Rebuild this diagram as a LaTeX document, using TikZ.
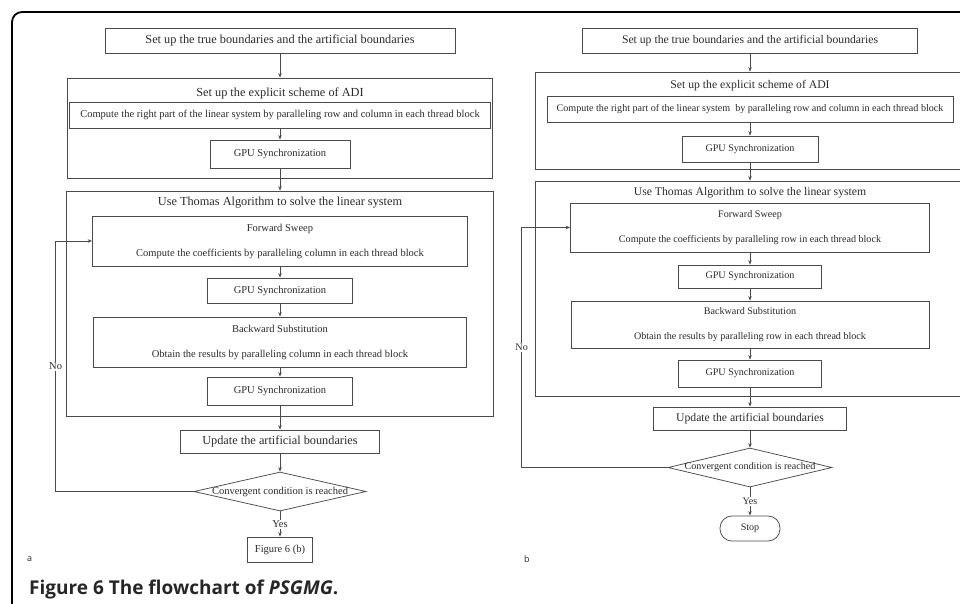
\documentclass[tikz,border=0pt]{standalone}
\usepackage{fontspec}
\setmainfont{Liberation Serif}
\newfontfamily\capfont{Open Sans}
\usetikzlibrary{shapes.geometric, arrows.meta}

\definecolor{linegray}{HTML}{4A4A4A}
\definecolor{textgray}{HTML}{2A2A2A}

\newcommand{\fsbig}{\fontsize{12.3}{14}\selectfont}
\newcommand{\fssmall}{\fontsize{10.5}{12.6}\selectfont}
\newcommand{\fsbigb}{\fontsize{11.7}{14}\selectfont}
\newcommand{\fssmallb}{\fontsize{10.1}{12.2}\selectfont}

\begin{document}
\begin{tikzpicture}[x=1pt, y=-1pt,
        box/.style={rectangle, draw=linegray, line width=0.75pt, inner sep=0pt, align=center, text=textgray},
        group/.style={rectangle, draw=linegray, line width=0.75pt, inner sep=0pt},
        title/.style={inner sep=0pt, text=textgray},
        decision/.style={diamond, draw=linegray, line width=0.75pt, inner sep=-2pt, aspect=4.4, text=textgray},
        terminal/.style={rectangle, rounded corners=12pt, draw=linegray, line width=0.75pt, inner sep=0pt, text=textgray},
        arrow/.style={->, >={Stealth[length=4.5pt, width=3.5pt]}, line width=0.75pt, draw=linegray},
        lbl/.style={fill=white, inner sep=1pt, text=textgray}
    ]
    \useasboundingbox (0,0) rectangle (960,603);
    \clip (0,0) rectangle (960,603);
    \draw[line width=1.8pt, rounded corners=10pt] (12,610) -- (12,12) -- (970,12);

    % panel a
    \node[box, font=\fsbig, minimum width=350, minimum height=25] (tba) at (280,40.5) {Set up the true boundaries and the artificial boundaries};
    \node[group, minimum width=425, minimum height=100] (adia) at (280,128) {};
    \node[title, font=\fsbig] (adtla) at (280,93) {Set up the explicit scheme of ADI};
    \node[box, font=\fssmall, minimum width=421, minimum height=26] (cpra) at (280,115) {Compute the right part of the linear system by paralleling row and column in each thread block};
    \node[box, font=\fssmall, minimum width=140, minimum height=28] (gsa1) at (280,154) {GPU Synchronization};
    \node[group, minimum width=427, minimum height=225] (thoa) at (280,303.5) {};
    \node[title, font=\fsbig] (thtla) at (280,203) {Use Thomas Algorithm to solve the linear system};
    \node[box, font=\fssmall, minimum width=375, minimum height=50] (fwda) at (280,241) {Forward Sweep\\[12.4pt]Compute the coefficients by paralleling column in each thread block};
    \node[box, font=\fssmall, minimum width=145, minimum height=25] (gsa2) at (280,290.5) {GPU Synchronization};
    \node[box, font=\fssmall, minimum width=373, minimum height=50] (bwda) at (280,342) {Backward Substitution\\[12.4pt]Obtain the results by paralleling column in each thread block};
    \node[box, font=\fssmall, minimum width=145, minimum height=28] (gsa3) at (280,391) {GPU Synchronization};
    \node[box, font=\fsbig, minimum width=199, minimum height=23] (upda) at (280,441.5) {Update the artificial boundaries};
    \node[decision, font=\fssmall, minimum width=172, minimum height=39] (conda) at (280,491.5) {Convergent condition is reached};
    \node[box, font=\fssmall, minimum width=65, minimum height=25] (figa) at (280,549.5) {Figure 6 (b)};

    \draw[arrow] (tba) -- (adia);
    \draw[arrow] (cpra) -- (gsa1);
    \draw[arrow] (gsa1) -- (thoa);
    \draw[arrow] (fwda) -- (gsa2);
    \draw[arrow] (gsa2) -- (bwda);
    \draw[arrow] (bwda) -- (gsa3);
    \draw[arrow] (gsa3) -- (upda);
    \draw[arrow] (upda) -- (conda);
    \draw[arrow] (conda) -- node[lbl, font=\fssmall] {Yes} (figa);
    \draw[arrow] (conda.west) -- ++(-138,0) |- node[lbl, pos=0.25, font=\fssmall] {No} (fwda.west);

    % panel b
    \node[box, font=\fsbigb, minimum width=335, minimum height=25] (tbb) at (750,40.5) {Set up the true boundaries and the artificial boundaries};
    \node[group, minimum width=430, minimum height=97] (adib) at (750,120.5) {};
    \node[title, font=\fsbigb] (adtlb) at (750,86) {Set up the explicit scheme of ADI};
    \node[box, font=\fssmallb, minimum width=406, minimum height=26] (cprb) at (750,109) {Compute the right part of the linear system\ \ by paralleling row and column in each thread block};
    \node[box, font=\fssmallb, minimum width=136, minimum height=26] (gsb1) at (750,149) {GPU Synchronization};
    \node[group, minimum width=430, minimum height=215] (thob) at (750,288.5) {};
    \node[title, font=\fsbigb] (thtlb) at (750,193) {Use Thomas Algorithm to solve the linear system};
    \node[box, font=\fssmallb, minimum width=359, minimum height=49] (fwdb) at (750,227.5) {Forward Sweep\\[12.8pt]Compute the coefficients by paralleling row in each thread block};
    \node[box, font=\fssmallb, minimum width=143, minimum height=23] (gsb2) at (750,276.5) {GPU Synchronization};
    \node[box, font=\fssmallb, minimum width=358, minimum height=47] (bwdb) at (750,324.5) {Backward Substitution\\[12.8pt]Obtain the results by paralleling row in each thread block};
    \node[box, font=\fssmallb, minimum width=143, minimum height=27] (gsb3) at (750,373.5) {GPU Synchronization};
    \node[box, font=\fsbigb, minimum width=193, minimum height=23] (updb) at (750,418.5) {Update the artificial boundaries};
    \node[decision, font=\fssmallb, minimum width=164, minimum height=39] (condb) at (750,467.5) {Convergent condition is reached};
    \node[terminal, font=\fssmallb, minimum width=60, minimum height=25] (stopb) at (750,528.5) {Stop};

    \draw[arrow] (tbb) -- (adib);
    \draw[arrow] (cprb) -- (gsb1);
    \draw[arrow] (gsb1) -- (thob);
    \draw[arrow] (fwdb) -- (gsb2);
    \draw[arrow] (gsb2) -- (bwdb);
    \draw[arrow] (bwdb) -- (gsb3);
    \draw[arrow] (gsb3) -- (updb);
    \draw[arrow] (updb) -- (condb);
    \draw[arrow] (condb) -- node[lbl, font=\fssmallb] {Yes} (stopb);
    \draw[arrow] (condb.west) -- ++(-146,0) |- node[lbl, pos=0.25, font=\fssmallb] {No} (fwdb.west);

    % panel tags and caption
    \node[anchor=base west, inner sep=0pt, font=\capfont\fontsize{9}{10}\selectfont, text=textgray] (tga) at (27,561) {a};
    \node[anchor=base west, inner sep=0pt, font=\capfont\fontsize{9}{10}\selectfont, text=textgray] (tgb) at (524,562) {b};
    \node[anchor=base west, inner sep=0pt, font=\capfont\bfseries\fontsize{19}{21}\selectfont, text=black!85] (capt) at (29,594) {Figure 6 The flowchart of \textit{PSGMG}.};
\end{tikzpicture}
\end{document}
